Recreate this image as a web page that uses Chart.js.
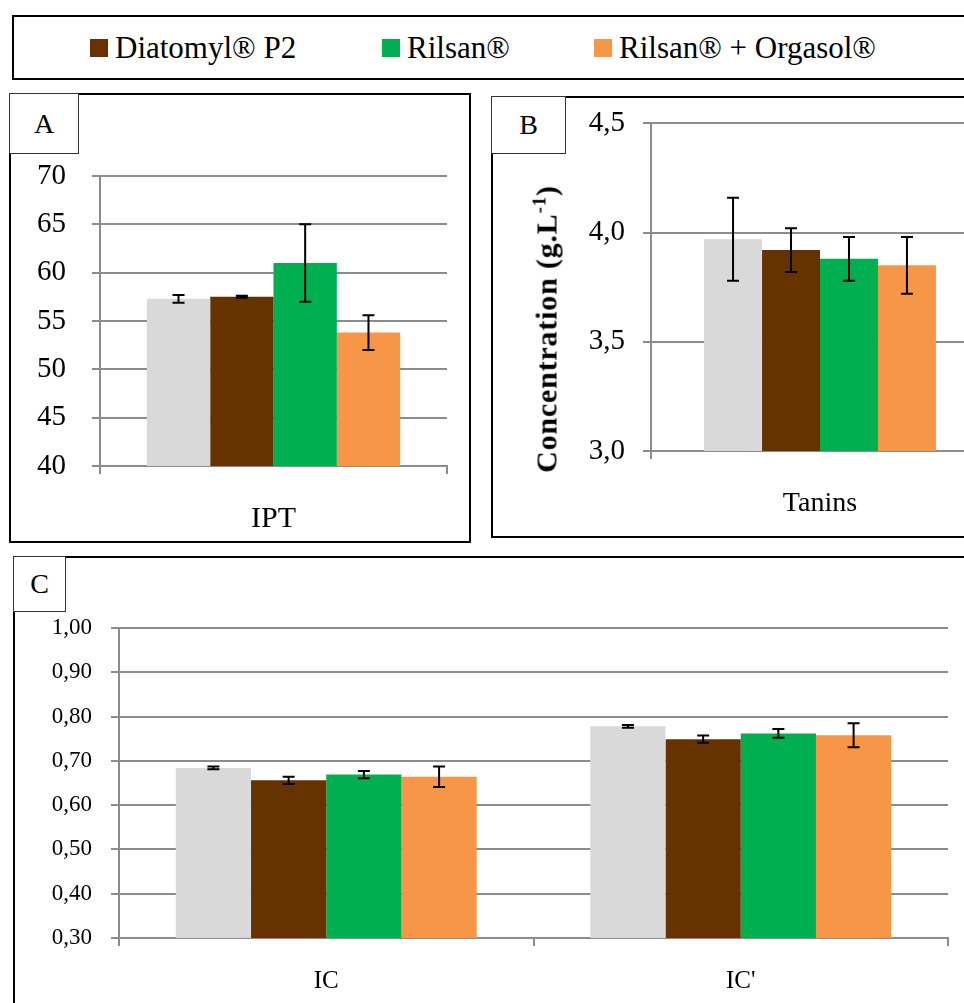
<!DOCTYPE html>
<html>
<head>
<meta charset="utf-8">
<script src="https://cdn.jsdelivr.net/npm/chart.js@4/dist/chart.umd.min.js"></script>
<style>
  html, body { margin: 0; padding: 0; width: 964px; height: 1003px; overflow: hidden; background: #fff; font-family: 'Liberation Serif', serif; color: #000; }
  .box { position: absolute; border: 2px solid #000; box-sizing: border-box; }
  .tag { position: absolute; border: 1px solid #333; background: #fff; box-sizing: border-box; font-size: 28px; display: flex; align-items: center; justify-content: center; z-index: 2; }
  canvas { position: absolute; }
  #legend { left: 12px; top: 15px; width: 1000px; height: 65px; display: flex; align-items: center; padding-left: 76px; font-size: 31px; }
  .item { display: flex; align-items: center; }
  .sw { width: 18px; height: 18px; margin-right: 7px; }
  #ytitle { position: absolute; left: 546px; top: 329px; transform: translate(-50%, -50%) rotate(-90deg); font-weight: bold; font-size: 30px; letter-spacing: 0.8px; white-space: nowrap; }
  #ytitle sup { font-size: 19px; }
</style>
</head>
<body>
<div class="box" id="legend"></div>

<div class="box" style="left:9px;top:93px;width:462px;height:450px;"></div>
<div class="tag" style="left:9px;top:93px;width:70px;height:61px;">A</div>
<canvas id="chartA" width="458" height="446" style="left:11px;top:95px;"></canvas>

<div class="box" style="left:491px;top:96px;width:520px;height:442px;"></div>
<div class="tag" style="left:491px;top:96px;width:75px;height:58px;">B</div>
<canvas id="chartB" width="520" height="448" style="left:493px;top:88px;"></canvas>
<div id="ytitle">Concentration (g.L<sup>-1</sup>)</div>

<div class="box" style="left:13px;top:556px;width:1000px;height:480px;"></div>
<div class="tag" style="left:13px;top:556px;width:53px;height:56px;">C</div>
<canvas id="chartC" width="960" height="445" style="left:15px;top:558px;"></canvas>

<script>
// series (the grey control has no legend entry)
const seriesNames = ['Témoin', 'Diatomyl® P2', 'Rilsan®', 'Rilsan® + Orgasol®'];
const seriesColors = ['#d9d9d9', '#663300', '#00b050', '#f79646'];
const inLegend = [false, true, true, true];
const legendWidths = [0, 292, 212, 300];

// A - IPT
const catsA = ['IPT'];
const iptValues = [57.3, 57.5, 61.0, 53.8];
const iptErrors = [0.4, 0.1, 4.0, 1.8];

// B - Tanins
const catsB = ['Tanins'];
const taninsValues = [3.97, 3.92, 3.88, 3.85];
const taninsErrors = [0.19, 0.10, 0.10, 0.13];

// C - IC / IC'
const catsC = ['IC', "IC'"];
const icTemoin = [0.684, 0.778];
const icDiatomyl = [0.656, 0.749];
const icRilsan = [0.669, 0.762];
const icOrgasol = [0.664, 0.758];
const icErrTemoin = [0.003, 0.003];
const icErrDiatomyl = [0.008, 0.008];
const icErrRilsan = [0.008, 0.010];
const icErrOrgasol = [0.023, 0.027];

Chart.defaults.font.family = "'Liberation Serif', serif";
Chart.defaults.color = '#000';

// legend
const legend = document.getElementById('legend');
seriesNames.forEach((name, i) => {
  if (!inLegend[i]) return;
  const it = document.createElement('div');
  it.className = 'item';
  it.style.width = legendWidths[i] + 'px';
  it.innerHTML = `<span class="sw" style="background:${seriesColors[i]}"></span><span>${name}</span>`;
  legend.appendChild(it);
});

const errorBars = {
  id: 'errorBars',
  afterDatasetsDraw(chart) {
    const ctx = chart.ctx;
    const y = chart.scales.y;
    ctx.save();
    ctx.strokeStyle = '#000';
    ctx.lineWidth = 2;
    chart.data.datasets.forEach((ds, i) => {
      chart.getDatasetMeta(i).data.forEach((bar, j) => {
        const v = ds.data[j], e = ds.errors[j];
        const t = y.getPixelForValue(v + e), b = y.getPixelForValue(v - e);
        ctx.beginPath();
        ctx.moveTo(bar.x, t); ctx.lineTo(bar.x, b);
        ctx.moveTo(bar.x - 6, t); ctx.lineTo(bar.x + 6, t);
        ctx.moveTo(bar.x - 6, b); ctx.lineTo(bar.x + 6, b);
        ctx.stroke();
      });
    });
    ctx.restore();
  }
};

const gridCol = '#8c8c8c';
const comma = d => v => v.toFixed(d).replace('.', ',');

function makeChart(id, labels, values, errors, o) {
  new Chart(document.getElementById(id), {
    type: 'bar',
    data: {
      labels: labels,
      datasets: seriesNames.map((n, i) => ({
        label: n,
        data: values[i],
        errors: errors[i],
        backgroundColor: seriesColors[i],
        borderWidth: 0,
        categoryPercentage: o.catPct,
        barPercentage: 1
      }))
    },
    options: {
      responsive: false,
      animation: false,
      layout: { padding: { top: o.top, right: o.right, left: 0, bottom: 0 } },
      plugins: { legend: { display: false }, tooltip: { enabled: false } },
      scales: {
        x: {
          grid: { drawOnChartArea: false, color: gridCol, lineWidth: 2, tickLength: 8 },
          border: { color: gridCol, width: 2 },
          ticks: { font: { size: o.xFont }, padding: o.xPad },
          afterFit: s => { s.height = o.xH; }
        },
        y: {
          min: o.min, max: o.max,
          grid: { color: gridCol, lineWidth: 2, tickLength: 8 },
          border: { color: gridCol, width: 2 },
          ticks: { stepSize: o.step, font: { size: o.yFont }, padding: o.yPad, callback: o.fmt },
          afterFit: s => { s.width = o.yW; }
        }
      }
    },
    plugins: [errorBars]
  });
}

makeChart('chartA', catsA, iptValues.map(v => [v]), iptErrors.map(e => [e]), {
  catPct: 0.73, top: 81, right: 22, xH: 75, yW: 89, min: 40, max: 70, step: 5,
  xFont: 30, xPad: 27, yFont: 29, yPad: 26, fmt: v => String(v)
});

makeChart('chartB', catsB, taninsValues.map(v => [v]), taninsErrors.map(e => [e]), {
  catPct: 0.686, top: 35, right: 24, xH: 85, yW: 158, min: 3, max: 4.5, step: 0.5,
  xFont: 28, xPad: 28, yFont: 29, yPad: 18, fmt: comma(1)
});

makeChart('chartC', catsC,
  [icTemoin, icDiatomyl, icRilsan, icOrgasol],
  [icErrTemoin, icErrDiatomyl, icErrRilsan, icErrOrgasol], {
  catPct: 0.726, top: 70, right: 27, xH: 65, yW: 104, min: 0.3, max: 1.0, step: 0.1,
  xFont: 25, xPad: 20, yFont: 23, yPad: 19, fmt: comma(2)
});
</script>
</body>
</html>
